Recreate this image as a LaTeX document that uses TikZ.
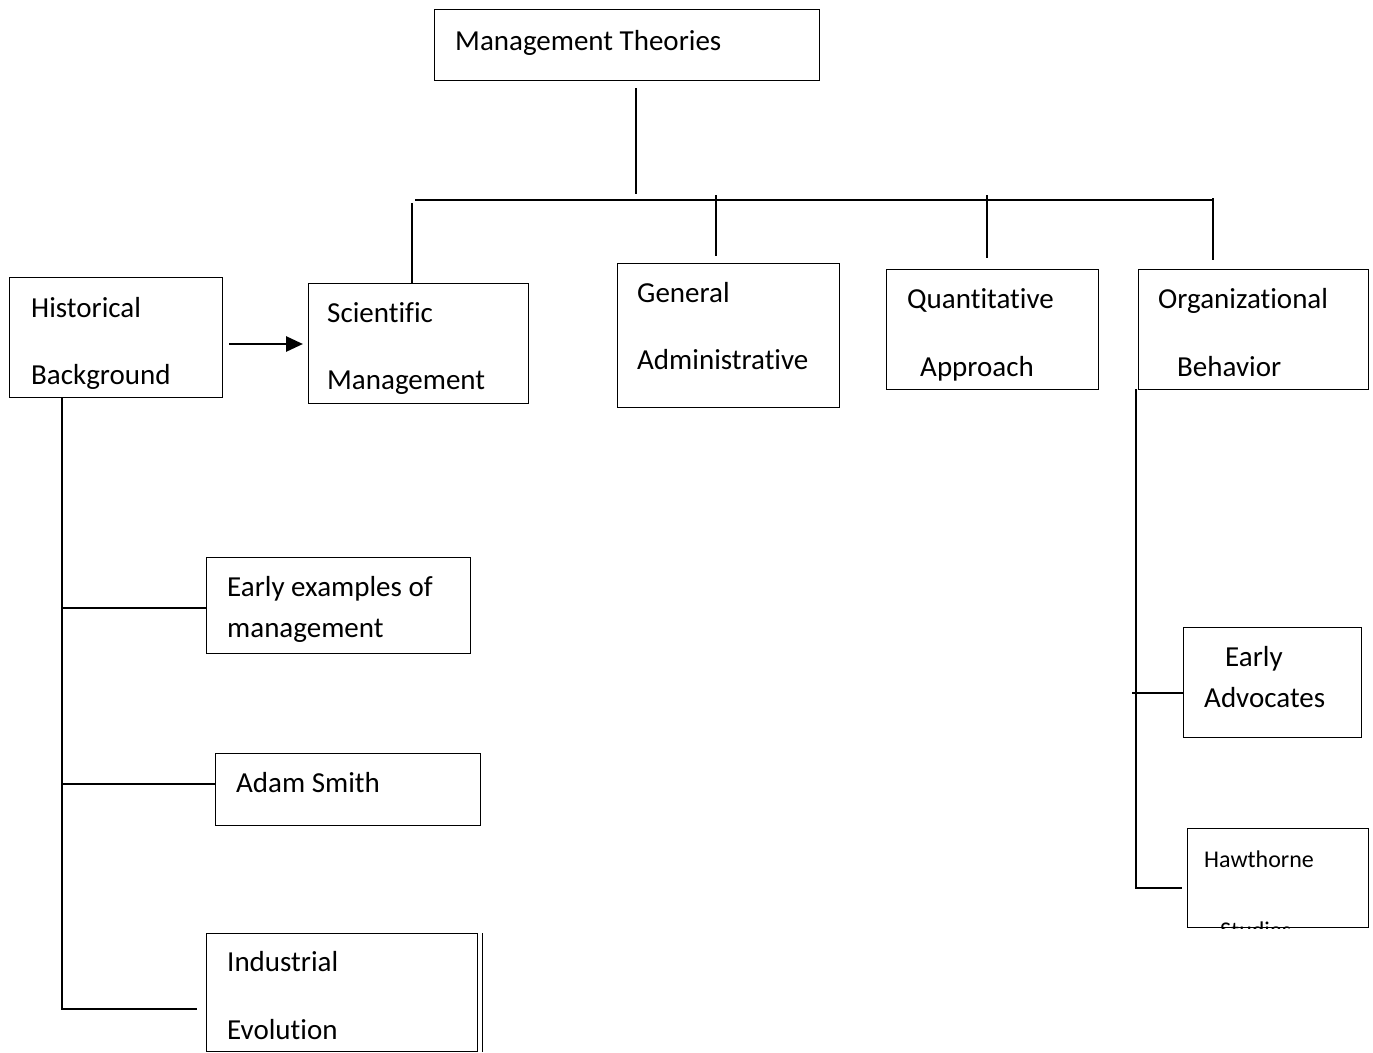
\documentclass[tikz,border=0pt]{standalone}
\usepackage{fontspec}
\setmainfont{Carlito}[Ligatures=NoCommon]
\usetikzlibrary{arrows.meta, positioning}
\tikzset{
  bx/.style={rectangle, draw=black, line width=1.4pt,
    inner sep=0pt, anchor=north west},
  lbl/.style={anchor=base west, inner sep=0pt,
    font=\fontsize{29}{35}\selectfont},
  lblS/.style={lbl, font=\fontsize{24}{29}\selectfont},
  conn/.style={line width=2.8pt},
  arrw/.style={-{Triangle[length=17pt, width=15pt]}, line width=2.8pt},
}

\begin{document}
\begin{tikzpicture}[x=1pt, y=-1pt]
  \useasboundingbox (0,0) rectangle (1373,1052);

  % Top box
  \node[bx, minimum width=385pt, minimum height=71pt] (mt) at (434,9) {};
  \node[lbl] (mtT) at (455,50) {Management Theories};

  % Row of theory boxes
  \node[bx, minimum width=213pt, minimum height=120pt] (hist) at (9,277) {};
  \node[lbl] (histA) at (31,317) {Historical};
  \node[lbl] (histB) at (31,384) {Background};

  \node[bx, minimum width=220pt, minimum height=120pt] (sci) at (308,283) {};
  \node[lbl] (sciA) at (327,322) {Scientific};
  \node[lbl] (sciB) at (327,389) {Management};

  \node[bx, minimum width=222pt, minimum height=144pt] (gen) at (617,263) {};
  \node[lbl] (genA) at (637,302) {General};
  \node[lbl] (genB) at (637,369) {Administrative};

  \node[bx, minimum width=212pt, minimum height=120pt] (quant) at (886,269) {};
  \node[lbl] (quantA) at (907,308) {Quantitative};
  \node[lbl] (quantB) at (920,376) {Approach};

  \node[bx, minimum width=230pt, minimum height=120pt] (org) at (1138,269) {};
  \node[lbl] (orgA) at (1158,308) {Organizational};
  \node[lbl] (orgB) at (1177,376) {Behavior};

  % Historical background branch
  \node[bx, minimum width=264pt, minimum height=96pt] (early) at (206,557) {};
  \node[lbl] (earlyA) at (227,596) {Early examples of};
  \node[lbl] (earlyB) at (227,637) {management};

  \node[bx, minimum width=265pt, minimum height=72pt] (smith) at (215,753) {};
  \node[lbl] (smithA) at (236,792) {Adam Smith};

  \node[bx, minimum width=271pt, minimum height=118pt] (ind) at (206,933) {};
  \node[lbl] (indA) at (227,971) {Industrial};
  \node[lbl] (indB) at (227,1039) {Evolution};
  \draw[line width=1.4pt] ([xshift=4pt]ind.north east) -- ([xshift=4pt]ind.south east);

  % Organizational behavior branch
  \node[bx, minimum width=178pt, minimum height=110pt] (adv) at (1183,627) {};
  \node[lbl] (advA) at (1225,666) {Early};
  \node[lbl] (advB) at (1204,707) {Advocates};

  \node[bx, minimum width=181pt, minimum height=99pt] (haw) at (1187,828) {};
  \node[lblS] (hawA) at (1204,867) {Hawthorne};
  \begin{scope}
    \clip (haw.north west) rectangle (haw.south east);
    \node[lblS] (hawB) at (1220,938) {Studies};
  \end{scope}

  % Tree from the top box
  \coordinate (mtTap) at (636,88);
  \coordinate (busL) at (415,200);
  \coordinate (busR) at (1213,200);
  \draw[conn] (mtTap) -- ++(0,106);
  \draw[conn] (busL) -- (busR);

  \coordinate (sciTap) at (412,203);
  \coordinate (genTap) at (716,195);
  \coordinate (quantTap) at (987,195);
  \coordinate (orgTap) at (1213,198);
  \draw[conn] (sciTap) -- (sciTap |- sci.north);
  \draw[conn] (genTap) -- ++(0,61);
  \draw[conn] (quantTap) -- ++(0,63);
  \draw[conn] (orgTap) -- ++(0,62);

  % Arrow between first two boxes
  \coordinate (arrA) at (229,344);
  \coordinate (arrB) at (303,344);
  \draw[arrw] (arrA) -- (arrB);

  % Left trunk
  \coordinate (trunkL) at (62,397);
  \coordinate (brE) at (62,608);
  \coordinate (brS) at (62,784);
  \draw[conn] (trunkL) -- ++(0,612) -- ++(135,0);
  \draw[conn] (brE) -- (brE -| early.west);
  \draw[conn] (brS) -- (brS -| smith.west);

  % Right trunk
  \coordinate (trunkR) at (1136,389);
  \coordinate (brA) at (1132,693);
  \draw[conn] (trunkR) -- ++(0,499) -- ++(46,0);
  \draw[conn] (brA) -- (brA -| adv.west);
\end{tikzpicture}
\end{document}
